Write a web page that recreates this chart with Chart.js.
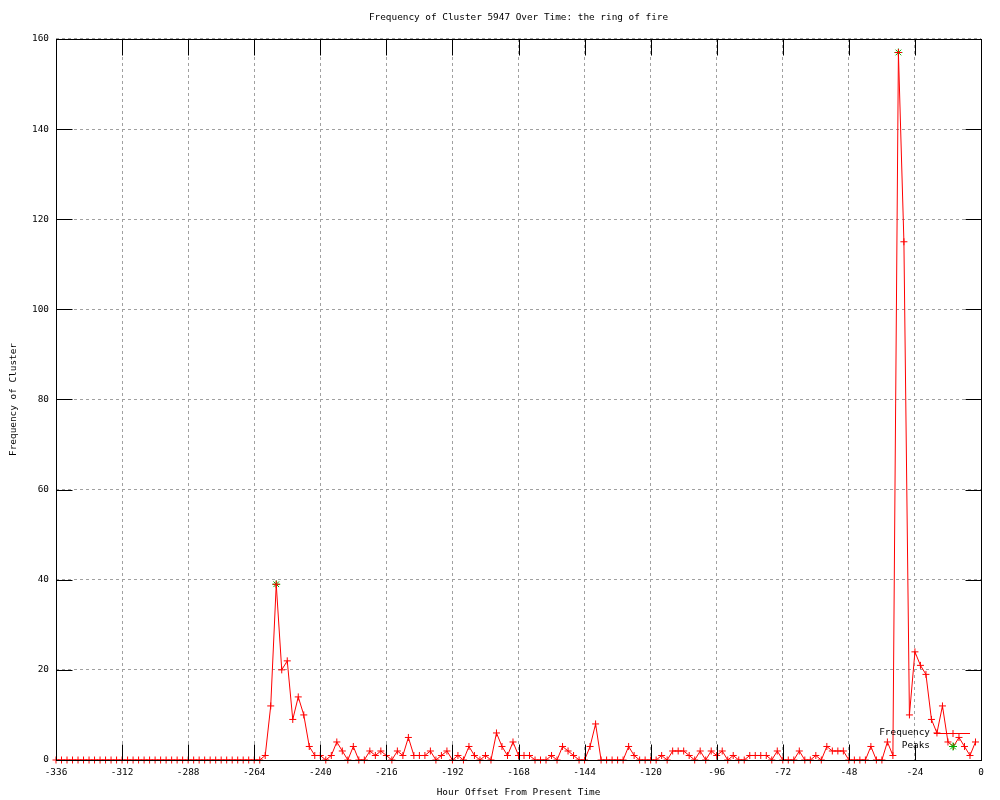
<!DOCTYPE html>
<html lang="en">
<head>
<meta charset="UTF-8">
<title>Frequency of Cluster 5947 Over Time</title>
<script src="https://cdn.jsdelivr.net/npm/chart.js"></script>
<style>
  body { margin: 0; background: #ffffff; }
</style>
</head>
<body>
<canvas id="clusterChart" width="1000" height="800"></canvas>
<script>
// Horas relativas al presente (una muestra cada 2 h)
var horas = [
  -336, -334, -332, -330, -328, -326, -324, -322, -320, -318, -316, -314,
  -312, -310, -308, -306, -304, -302, -300, -298, -296, -294, -292, -290,
  -288, -286, -284, -282, -280, -278, -276, -274, -272, -270, -268, -266,
  -264, -262, -260, -258, -256, -254, -252, -250, -248, -246, -244, -242,
  -240, -238, -236, -234, -232, -230, -228, -226, -224, -222, -220, -218,
  -216, -214, -212, -210, -208, -206, -204, -202, -200, -198, -196, -194,
  -192, -190, -188, -186, -184, -182, -180, -178, -176, -174, -172, -170,
  -168, -166, -164, -162, -160, -158, -156, -154, -152, -150, -148, -146,
  -144, -142, -140, -138, -136, -134, -132, -130, -128, -126, -124, -122,
  -120, -118, -116, -114, -112, -110, -108, -106, -104, -102, -100, -98,
  -96, -94, -92, -90, -88, -86, -84, -82, -80, -78, -76, -74,
  -72, -70, -68, -66, -64, -62, -60, -58, -56, -54, -52, -50,
  -48, -46, -44, -42, -40, -38, -36, -34, -32, -30, -28, -26,
  -24, -22, -20, -18, -16, -14, -12, -10, -8, -6, -4, -2
];

// Frecuencia del cluster en cada hora
var frecuencia = [
  0, 0, 0, 0, 0, 0, 0, 0, 0, 0, 0, 0,
  0, 0, 0, 0, 0, 0, 0, 0, 0, 0, 0, 0,
  0, 0, 0, 0, 0, 0, 0, 0, 0, 0, 0, 0,
  0, 0, 1, 12, 39, 20, 22, 9, 14, 10, 3, 1,
  1, 0, 1, 4, 2, 0, 3, 0, 0, 2, 1, 2,
  1, 0, 2, 1, 5, 1, 1, 1, 2, 0, 1, 2,
  0, 1, 0, 3, 1, 0, 1, 0, 6, 3, 1, 4,
  1, 1, 1, 0, 0, 0, 1, 0, 3, 2, 1, 0,
  0, 3, 8, 0, 0, 0, 0, 0, 3, 1, 0, 0,
  0, 0, 1, 0, 2, 2, 2, 1, 0, 2, 0, 2,
  1, 2, 0, 1, 0, 0, 1, 1, 1, 1, 0, 2,
  0, 0, 0, 2, 0, 0, 1, 0, 3, 2, 2, 2,
  0, 0, 0, 0, 3, 0, 0, 4, 1, 157, 115, 10,
  24, 21, 19, 9, 6, 12, 4, 3, 5, 3, 1, 4
];

// Picos detectados
var horasPicos = [-256, -30];
var valoresPicos = [39, 157];

var fuente = { family: "'DejaVu Sans Mono', 'Liberation Mono', monospace", size: 9.4, weight: 'normal' };
var largoTick = 16; // marcas hacia dentro, estilo gnuplot

// Dibuja el marco completo y las marcas de los ejes hacia dentro
var marcoGnuplot = {
  id: 'marcoGnuplot',
  afterDatasetsDraw: function(chart) {
    var ctx = chart.ctx;
    var a = chart.chartArea;
    var sx = chart.scales.x, sy = chart.scales.y;
    var L = Math.round(a.left) + 0.5, R = Math.round(a.right) + 0.5;
    var T = Math.round(a.top) + 0.5, B = Math.round(a.bottom) + 0.5;
    ctx.save();
    ctx.strokeStyle = '#000000';
    ctx.lineWidth = 1;
    ctx.setLineDash([]);
    ctx.strokeRect(L, T, R - L, B - T);
    ctx.beginPath();
    sx.ticks.forEach(function(t) {
      var px = Math.round(sx.getPixelForValue(t.value)) + 0.5;
      ctx.moveTo(px, B); ctx.lineTo(px, B - largoTick);
      ctx.moveTo(px, T); ctx.lineTo(px, T + largoTick);
    });
    sy.ticks.forEach(function(t) {
      var py = Math.round(sy.getPixelForValue(t.value)) + 0.5;
      ctx.moveTo(L, py); ctx.lineTo(L + largoTick, py);
      ctx.moveTo(R, py); ctx.lineTo(R - largoTick, py);
    });
    ctx.stroke();
    ctx.restore();
  }
};

// Leyenda abajo a la derecha: texto a la izquierda, muestra a la derecha
var leyendaGnuplot = {
  id: 'leyendaGnuplot',
  afterDraw: function(chart) {
    var ctx = chart.ctx;
    var a = chart.chartArea;
    var filas = [a.bottom - 27.5, a.bottom - 14];
    ctx.save();
    ctx.font = fuente.size + 'px ' + fuente.family;
    ctx.textAlign = 'right';
    ctx.textBaseline = 'middle';
    chart.data.datasets.forEach(function(ds, i) {
      var y = filas[i];
      ctx.fillStyle = '#000000';
      ctx.fillText(ds.label, a.right - 51, y);
      ctx.strokeStyle = ds.borderColor;
      ctx.lineWidth = 1;
      if (ds.showLine !== false) {
        ctx.beginPath();
        ctx.moveTo(a.right - 47, Math.round(y) + 0.5);
        ctx.lineTo(a.right - 11, Math.round(y) + 0.5);
        ctx.stroke();
      }
      Chart.helpers.drawPoint(ctx, {
        pointStyle: ds.pointStyle, radius: ds.pointRadius, borderWidth: 1, rotation: 0
      }, a.right - 28, Math.round(y) + 0.5);
    });
    ctx.restore();
  }
};

var puntosFrecuencia = horas.map(function(h, i) { return { x: h, y: frecuencia[i] }; });
var puntosPicos = horasPicos.map(function(h, i) { return { x: h, y: valoresPicos[i] }; });

var ctxCluster = document.getElementById('clusterChart').getContext('2d');
var clusterChart = new Chart(ctxCluster, {
  type: 'line',
  data: {
    datasets: [{
      label: 'Frequency',
      data: puntosFrecuencia,
      borderColor: '#ff0000',
      backgroundColor: '#ff0000',
      borderWidth: 1,
      pointStyle: 'cross',
      pointRadius: 3.5,
      pointBorderWidth: 1,
      pointBorderColor: '#ff0000',
      tension: 0,
      fill: false,
      clip: false,
      order: 0
    }, {
      label: 'Peaks',
      data: puntosPicos,
      borderColor: '#00b000',
      backgroundColor: '#00b000',
      showLine: false,
      pointStyle: 'star',
      pointRadius: 4,
      pointBorderWidth: 1,
      pointBorderColor: '#00b000',
      clip: false,
      order: 1
    }]
  },
  options: {
    responsive: false,
    animation: false,
    events: [],
    layout: { padding: { left: 0, right: 19, top: 0, bottom: 0 } },
    plugins: {
      legend: { display: false },
      tooltip: { enabled: false },
      title: {
        display: true,
        text: 'Frequency of Cluster 5947 Over Time: the ring of fire',
        color: '#000000',
        fullSize: false,
        font: fuente,
        padding: { top: 12, bottom: 15.7 }
      }
    },
    scales: {
      x: {
        type: 'linear',
        min: -336,
        max: 0,
        afterFit: function(scale) { scale.height = 40; },
        ticks: { stepSize: 24, color: '#000000', font: fuente, padding: 7, maxRotation: 0, autoSkip: false },
        grid: { color: '#a0a0a0', lineWidth: 1, drawTicks: false },
        border: { display: false, dash: [3, 3] },
        title: {
          display: true,
          text: 'Hour Offset From Present Time',
          color: '#000000',
          font: fuente,
          padding: { top: 0, bottom: 2 }
        }
      },
      y: {
        type: 'linear',
        min: 0,
        max: 160,
        afterFit: function(scale) { scale.width = 56; },
        ticks: { stepSize: 20, color: '#000000', font: fuente, padding: 7 },
        grid: { color: '#a0a0a0', lineWidth: 1, drawTicks: false },
        border: { display: false, dash: [3, 3] },
        title: {
          display: true,
          text: 'Frequency of Cluster',
          color: '#000000',
          font: fuente,
          padding: { top: 7.5, bottom: 0 }
        }
      }
    }
  },
  plugins: [marcoGnuplot, leyendaGnuplot]
});
</script>
</body>
</html>
